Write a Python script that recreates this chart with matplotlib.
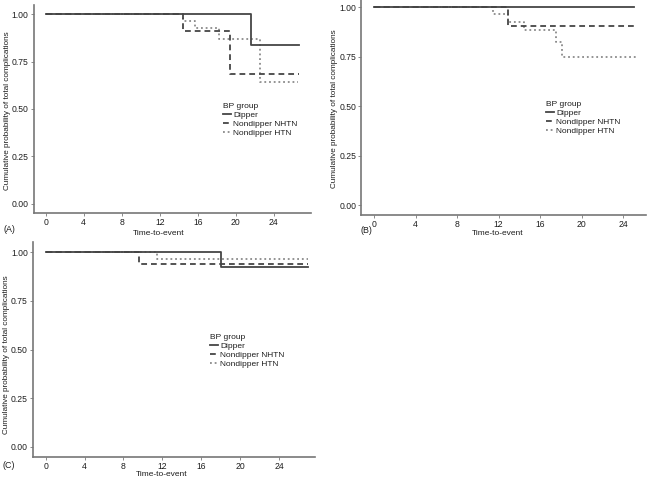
import numpy as np
from matplotlib import pyplot as plt

plt.rcParams['font.family'] = ['Liberation Sans', 'DejaVu Sans']

groups = ['Dipper', 'Nondipper NHTN', 'Nondipper HTN']

# panel A
a_dip_t = [0, 21.6, 26.7]
a_dip_s = [1.0, 0.836, 0.836]
a_nhtn_t = [0, 14.45, 19.35, 26.7]
a_nhtn_s = [1.0, 0.911, 0.685, 0.685]
a_htn_t = [0, 14.45, 15.7, 18.25, 22.6, 26.6]
a_htn_s = [1.0, 0.966, 0.925, 0.867, 0.644, 0.644]

# panel B
b_dip_t = [0, 25.0]
b_dip_s = [1.0, 1.0]
b_nhtn_t = [0, 12.95, 25.0]
b_nhtn_s = [1.0, 0.907, 0.907]
b_htn_t = [0, 11.5, 12.95, 14.45, 17.5, 18.15, 25.2]
b_htn_s = [1.0, 0.966, 0.927, 0.883, 0.826, 0.748, 0.748]

# panel C
c_dip_t = [0, 18.0, 27.0]
c_dip_s = [1.0, 0.923, 0.923]
c_nhtn_t = [0, 9.6, 27.0]
c_nhtn_s = [1.0, 0.941, 0.941]
c_htn_t = [0, 11.4, 27.0]
c_htn_s = [1.0, 0.966, 0.966]

xticks = [0, 4, 8, 12, 16, 20, 24]
yticks = [0.0, 0.25, 0.5, 0.75, 1.0]

W, H = 651, 482
fig = plt.figure(figsize=(W/100, H/100), dpi=100)

def px(l, t, r, b):
    return [l/W, 1-b/H, (r-l)/W, (b-t)/H]

line_col = '#454545'
dot_col = '#8a8a8a'
axis_col = '#777777'
txt_col = '#1e1e1e'
fs_tick = 6.2
fs = 6.0

def panel(rect, curves, xlim, leg_xy):
    ax = fig.add_axes(rect)
    styles = [dict(color=line_col, ls='-', zorder=4),
              dict(color=line_col, ls=(0, (3.2, 2.2)), zorder=3),
              dict(color=dot_col, ls=(0, (1, 1.6)), zorder=2)]
    for (t, s), st, lab in zip(curves, styles, groups):
        ax.step(t, s, where='post', lw=1.3, label=lab, **st)
    ax.set_xlim(*xlim)
    ax.set_ylim(-0.05, 1.05)
    ax.set_xticks(xticks)
    ax.set_yticks(yticks)
    ax.set_yticklabels(['%.2f' % v for v in yticks])
    for sp in ['top', 'right']:
        ax.spines[sp].set_visible(False)
    for sp in ['left', 'bottom']:
        ax.spines[sp].set_color(axis_col)
        ax.spines[sp].set_linewidth(1.2)
    ax.tick_params(labelsize=fs_tick, length=2, width=0.6, color=axis_col,
                   labelcolor=txt_col, pad=1.5)
    ax.patch.set_alpha(0)
    leg = ax.legend(title='BP group', loc='upper left', bbox_to_anchor=leg_xy,
                    frameon=False, fontsize=fs, title_fontsize=fs,
                    handlelength=1.0, handletextpad=0.2, labelspacing=0.15,
                    borderpad=0, borderaxespad=0, alignment='left')
    for txt in leg.get_texts():
        txt.set_color(txt_col)
    leg.get_title().set_color(txt_col)
    return ax

panel(px(33.5, 4.75, 311, 213),
      [(a_dip_t, a_dip_s), (a_nhtn_t, a_nhtn_s), (a_htn_t, a_htn_s)],
      (-1.29, 27.93), (0.683, 0.53))
panel(px(361, -2.6, 646, 215),
      [(b_dip_t, b_dip_s), (b_nhtn_t, b_nhtn_s), (b_htn_t, b_htn_s)],
      (-1.25, 26.2), (0.649, 0.525))
panel(px(32.7, 242.5, 315, 456.7),
      [(c_dip_t, c_dip_s), (c_nhtn_t, c_nhtn_s), (c_htn_t, c_htn_s)],
      (-1.34, 27.7), (0.628, 0.575))

ylab = 'Cumulative probability of total complications'
def ftext(x, y, s, size=fs, **kw):
    fig.text(x/W, 1-y/H, s, fontsize=size, color=txt_col, ha='center', va='center', **kw)

ftext(7.3, 111, ylab, size=5.9, rotation=90)
ftext(335, 109, ylab, size=5.9, rotation=90)
ftext(6.7, 355, ylab, size=5.9, rotation=90)
ftext(159, 233, 'Time-to-event')
ftext(498, 233, 'Time-to-event')
ftext(162, 474, 'Time-to-event')
ftext(9, 229, '(A)', size=6.4)
ftext(366, 230, '(B)', size=6.4)
ftext(9, 465, '(C)', size=6.4)

fig.savefig('out.png', dpi=100)
